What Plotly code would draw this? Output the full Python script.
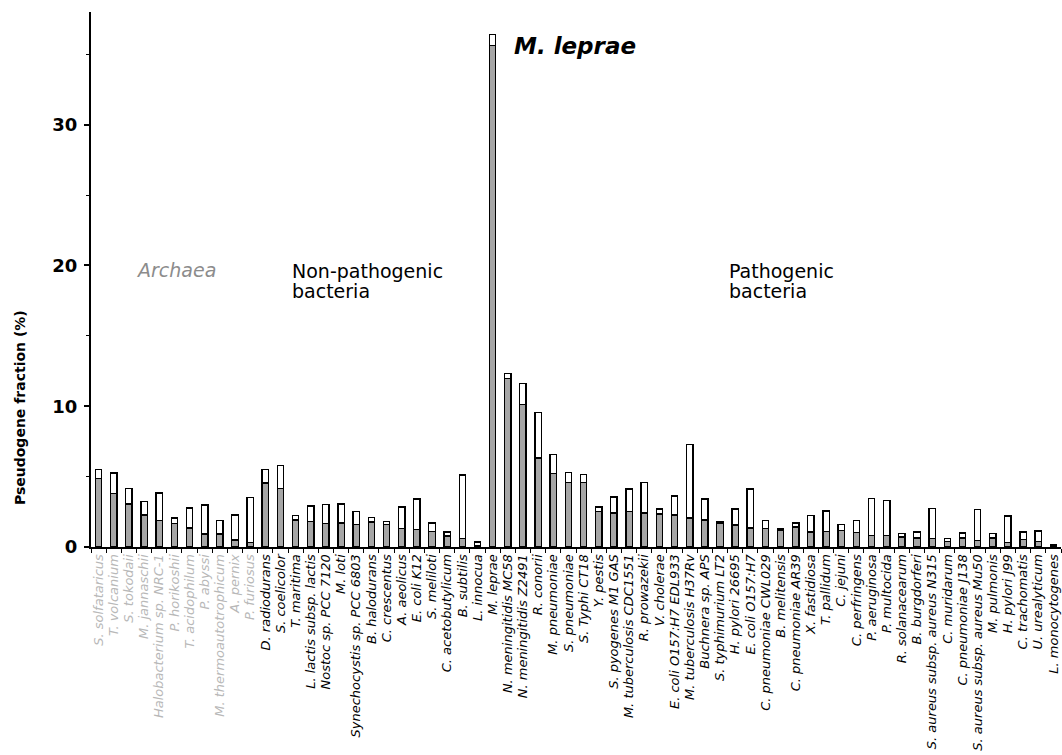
import plotly.graph_objects as go

# ---------------- data ----------------
archaea = ["S. solfataricus", "T. volcanium", "S. tokodaii", "M. jannaschii",
           "Halobacterium sp. NRC-1", "P. horikoshii", "T. acidophilum", "P. abyssi",
           "M. thermoautotrophicum", "A. pernix", "P. furiosus"]
archaea_total = [5.5, 5.25, 4.18, 3.25, 3.83, 2.05, 2.76, 2.98, 1.86, 2.28, 3.5]
archaea_func = [4.85, 3.8, 3.05, 2.28, 1.9, 1.68, 1.35, 0.93, 0.92, 0.5, 0.3]

nonpath = ["D. radiodurans", "S. coelicolor", "T. maritima", "L. lactis subsp. lactis",
           "Nostoc sp. PCC 7120", "M. loti", "Synechocystis sp. PCC 6803", "B. halodurans",
           "C. crescentus", "A. aeolicus", "E. coli K12", "S. meliloti",
           "C. acetobutylicum", "B. subtilis", "L. innocua"]
nonpath_total = [5.5, 5.78, 2.22, 2.92, 3.02, 3.06, 2.54, 2.09, 1.83, 2.85, 3.4, 1.71,
                 1.07, 5.11, 0.36]
nonpath_func = [4.55, 4.15, 1.92, 1.83, 1.66, 1.71, 1.62, 1.78, 1.59, 1.31, 1.24, 1.12,
                0.78, 0.59, 0.12]

path = ["M. leprae", "N. meningitidis MC58", "N. meningitidis Z2491", "R. conorii",
        "M. pneumoniae", "S. pneumoniae", "S. Typhi CT18", "Y. pestis",
        "S. pyogenes M1 GAS", "M. tuberculosis CDC1551", "R. prowazekii", "V. cholerae",
        "E. coli O157:H7 EDL933", "M. tuberculosis H37Rv", "Buchnera sp. APS",
        "S. typhimurium LT2", "H. pylori 26695", "E. coli O157:H7",
        "C. pneumoniae CWL029", "B. melitensis", "C. pneumoniae AR39", "X. fastidiosa",
        "T. pallidum", "C. jejuni", "C. perfringens", "P. aeruginosa", "P. multocida",
        "R. solanacearum", "B. burgdorferi", "S. aureus subsp. aureus N315",
        "C. muridarum", "C. pneumoniae J138", "S. aureus subsp. aureus Mu50",
        "M. pulmonis", "H. pylori J99", "C. trachomatis", "U. urealyticum",
        "L. monocytogenes"]
path_total = [36.4, 12.3, 11.6, 9.55, 6.55, 5.27, 5.13, 2.85, 3.56, 4.13, 4.56, 2.7,
              3.63, 7.26, 3.42, 1.8, 2.7, 4.13, 1.88, 1.3, 1.71, 2.26, 2.56, 1.59, 1.9,
              3.44, 3.28, 0.95, 1.07, 2.73, 0.59, 1.0, 2.66, 0.95, 2.2, 1.07, 1.14, 0.19]
path_func = [35.6, 11.95, 10.1, 6.33, 5.2, 4.56, 4.56, 2.5, 2.42, 2.5, 2.42, 2.35,
             2.28, 2.06, 1.92, 1.7, 1.56, 1.35, 1.3, 1.2, 1.42, 1.07, 1.12, 1.19, 1.02,
             0.83, 0.83, 0.71, 0.64, 0.59, 0.4, 0.64, 0.48, 0.64, 0.31, 0.55, 0.4, 0.07]

y_ticks = [0, 10, 20, 30]

# ---------------- build ----------------
names = archaea + nonpath + path
totals = archaea_total + nonpath_total + path_total
lower = archaea_func + nonpath_func + path_func
upper = [t - l for t, l in zip(totals, lower)]

ticktext = ([f"<span style='color:#b8b8b8'><i>{n}</i></span>" for n in archaea] +
            [f"<i>{n}</i>" for n in nonpath + path])

FONT = "DejaVu Sans"
BW = 0.42

fig = go.Figure()
fig.add_trace(go.Bar(x=names, y=lower, width=BW,
                     marker=dict(color="#a6a6a6", line=dict(color="black", width=1.3)),
                     showlegend=False))
fig.add_trace(go.Bar(x=names, y=upper, width=BW,
                     marker=dict(color="white", line=dict(color="black", width=1.3)),
                     showlegend=False))

fig.update_layout(
    barmode="stack",
    width=1062, height=755,
    margin=dict(l=91, r=1, t=12, b=208),
    paper_bgcolor="white", plot_bgcolor="white",
    font=dict(family=FONT, color="black"),
)

fig.update_xaxes(
    type="category", automargin=False,
    categoryorder="array", categoryarray=names,
    range=[-0.5, len(names) - 0.5],
    tickmode="array", tickvals=names, ticktext=ticktext,
    tickangle=-90, tickfont=dict(family=FONT, size=13, color="black"),
    tickson="boundaries", ticks="outside", ticklen=4, tickwidth=1.3, tickcolor="black",
    ticklabelstandoff=0,
    showline=True, linecolor="black", linewidth=2,
    showgrid=False, zeroline=False,
)

fig.update_yaxes(
    range=[0, 38], automargin=False,
    tickmode="array", tickvals=y_ticks,
    ticks="outside", ticklen=5, tickwidth=1.5, tickcolor="black",
    minor=dict(dtick=5, tick0=0, ticks="outside", ticklen=3, tickwidth=1.2, tickcolor="black"),
    tickfont=dict(family=FONT, size=18, color="black", weight="bold"),
    ticklabelstandoff=3,
    showline=True, linecolor="black", linewidth=2,
    showgrid=False, zeroline=False,
)

ann_font = dict(family=FONT, size=19, color="black")
fig.add_annotation(text="<i>Archaea</i>", x=2.35, y=19.7, xref="x", yref="y",
                   xanchor="left", yanchor="middle", showarrow=False,
                   font=dict(family=FONT, size=19, color="#8c8c8c"))
fig.add_annotation(text="Non-pathogenic", x=12.6, y=19.6, xref="x", yref="y",
                   xanchor="left", yanchor="middle", showarrow=False, font=ann_font)
fig.add_annotation(text="bacteria", x=12.6, y=18.2, xref="x", yref="y",
                   xanchor="left", yanchor="middle", showarrow=False, font=ann_font)
fig.add_annotation(text="Pathogenic", x=41.45, y=19.6, xref="x", yref="y",
                   xanchor="left", yanchor="middle", showarrow=False, font=ann_font)
fig.add_annotation(text="bacteria", x=41.45, y=18.2, xref="x", yref="y",
                   xanchor="left", yanchor="middle", showarrow=False, font=ann_font)
fig.add_annotation(text="<b><i>M. leprae</i></b>", x=27.25, y=35.6, xref="x", yref="y",
                   xanchor="left", yanchor="middle", showarrow=False,
                   font=dict(family=FONT, size=23, color="black"))
fig.add_annotation(text="<b>Pseudogene fraction (%)</b>", x=-0.073, y=0.26,
                   xref="paper", yref="paper", textangle=-90,
                   xanchor="center", yanchor="middle", showarrow=False,
                   font=dict(family=FONT, size=14, color="black"))

fig.write_html("out.html", config={"displayModeBar": False},
               post_script="document.body.style.margin='0';")
